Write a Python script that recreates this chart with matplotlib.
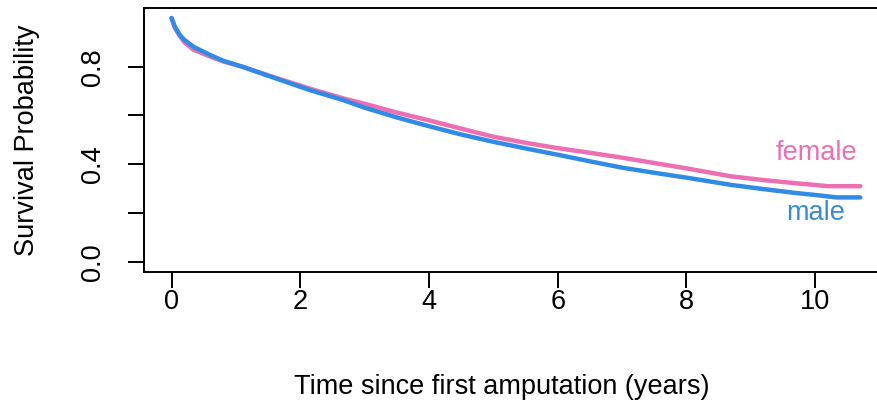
import matplotlib
matplotlib.use("Agg")
import matplotlib.pyplot as plt

# Kaplan-Meier survival estimates by sex (years since first amputation)
time_male = [0.0, 0.05, 0.13, 0.2, 0.34, 0.6, 0.8, 1.1, 1.6, 2.15, 2.67, 3.0,
             3.5, 4.0, 4.5, 5.0, 5.5, 6.0, 6.5, 7.0, 7.5, 8.0, 8.7, 9.2, 9.7,
             10.0, 10.33, 10.7]
surv_male = [1.0, 0.965, 0.93, 0.91, 0.882, 0.848, 0.825, 0.80, 0.754, 0.704,
             0.663, 0.632, 0.592, 0.556, 0.522, 0.492, 0.465, 0.439, 0.412,
             0.386, 0.365, 0.345, 0.315, 0.298, 0.282, 0.274, 0.264, 0.264]

time_female = [0.0, 0.05, 0.13, 0.2, 0.34, 0.6, 0.8, 1.1, 1.6, 2.15, 2.67, 3.0,
               3.5, 4.0, 4.5, 5.0, 5.5, 6.0, 6.5, 7.0, 7.5, 8.0, 8.7, 9.2, 9.7,
               10.0, 10.2, 10.7]
surv_female = [1.0, 0.96, 0.925, 0.9, 0.87, 0.842, 0.822, 0.80, 0.756, 0.71,
               0.67, 0.648, 0.612, 0.58, 0.546, 0.513, 0.488, 0.466, 0.447,
               0.427, 0.405, 0.383, 0.35, 0.335, 0.322, 0.315, 0.31, 0.31]

x_ticks = [0, 2, 4, 6, 8, 10]
y_ticks = [0.0, 0.2, 0.4, 0.6, 0.8]
y_tick_labels = ["0.0", "", "0.4", "", "0.8"]

col_female = "#EC6FB4"
col_male = "#2F8BE3"
fs = 19.5

plt.rcParams["font.family"] = ["Liberation Sans", "DejaVu Sans"]

fig = plt.figure(figsize=(8.77, 4.12), dpi=100)
ax = fig.add_axes([0.1642, 0.341, 0.8483, 0.639])

ax.plot(time_female, surv_female, color=col_female, lw=3.2,
        solid_capstyle="round", zorder=2)
ax.plot(time_male, surv_male, color=col_male, lw=3.2,
        solid_capstyle="round", zorder=3)

ax.text(10.66, 0.446, "female", color=col_female, fontsize=fs,
        ha="right", va="center")
ax.text(10.46, 0.2, "male", color="#3A8AD8", fontsize=fs,
        ha="right", va="center")

# R-style axis ranges padded by 4%
ax.set_xlim(-0.428, 11.13)
ax.set_ylim(-0.04, 1.04)

ax.set_xticks(x_ticks)
ax.set_xticklabels([str(v) for v in x_ticks])
ax.set_yticks(y_ticks)
ax.set_yticklabels(y_tick_labels, rotation=90, va="center")

for sp in ax.spines.values():
    sp.set_linewidth(1.4)
    sp.set_color("black")

ax.tick_params(axis="both", direction="out", length=11.5, width=1.4,
               labelsize=fs, colors="black")
ax.tick_params(axis="x", pad=1)
ax.tick_params(axis="y", pad=16)

ax.set_xlabel("Time since first amputation (years)", fontsize=fs)
ax.set_ylabel("Survival Probability", fontsize=fs)
ax.xaxis.set_label_coords(0.481, -0.388)
ax.yaxis.set_label_coords(-0.14, 0.5)

fig.savefig("out.png", dpi=100)
